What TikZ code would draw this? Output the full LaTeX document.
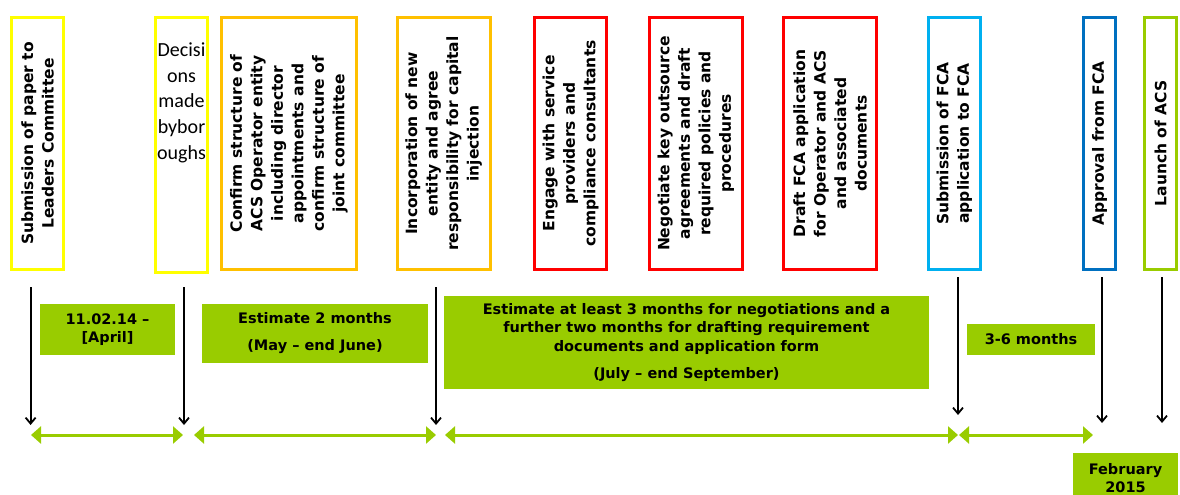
\documentclass[tikz,border=0pt]{standalone}
\usepackage{fontspec}
\usepackage{tikz}
\usetikzlibrary{arrows.meta, positioning}
\newfontfamily\cardfont{DejaVu Sans}
\newfontfamily\handfont{Carlito}
\definecolor{lemon}{HTML}{FFFF00}
\definecolor{amber}{HTML}{FFC000}
\definecolor{alarm}{HTML}{FF0000}
\definecolor{sky}{HTML}{00B0F0}
\definecolor{sea}{HTML}{0070C0}
\definecolor{leaf}{HTML}{99CC00}
\tikzset{
        card/.style={draw, line width=3pt, rotate=90, minimum width=252pt, inner sep=0pt, align=center,
                     font=\cardfont\bfseries\fontsize{15.5}{20.5}\selectfont}, % rotated task boxes
        note/.style={fill=leaf, inner sep=0pt, align=center,
                     font=\cardfont\bfseries\fontsize{14.5}{18.5}\selectfont}, % green estimates
        drop/.style={-{Straight Barb[length=6pt,width=10pt]}, line width=1.8pt}, % black milestone arrows
        period/.style={{Triangle[length=10pt,width=17pt]}-{Triangle[length=10pt,width=17pt]}, draw=leaf, line width=3pt},
    }
\begin{document}
\begin{tikzpicture}[x=1pt, y=-1pt]
    \useasboundingbox (0,0) rectangle (1180,495);
    % task boxes
    \node[card, draw=lemon, minimum height=52pt] (1) at (37.5,143.5) {Submission of paper to\\Leaders Committee};
    \node[draw=lemon, line width=3pt, minimum width=52pt, minimum height=254pt] (2) at (181.5,145) {};
    \node[below=26pt of 2.north, align=center, inner sep=0pt, font=\handfont\fontsize{20}{25.75}\selectfont] (2t) {Decisi\\ons\\made\\bybor\\oughs};
    \node[card, draw=amber, minimum height=135pt] (3) at (289,143.5) {Confirm structure of\\ACS Operator entity\\including director\\appointments and\\confirm structure of\\joint committee};
    \node[card, draw=amber, minimum height=93.5pt] (4) at (443.75,143.5) {Incorporation of new\\entity and agree\\responsibility for capital\\injection};
    \node[card, draw=alarm, minimum height=72pt] (5) at (570.5,143.5) {Engage with service\\providers and\\compliance consultants};
    \node[card, draw=alarm, minimum height=92.5pt] (6) at (695.75,143.5) {Negotiate key outsource\\agreements and draft\\required policies and\\procedures};
    \node[card, draw=alarm, minimum height=93pt] (7) at (830,143.5) {Draft FCA application\\for Operator and ACS\\and associated\\documents};
    \node[card, draw=sky, minimum height=51.5pt] (8) at (954.25,143.5) {Submission of FCA\\application to FCA};
    \node[card, draw=sea, minimum height=32pt] (9) at (1099.5,143.5) {Approval from FCA};
    \node[card, draw=leaf, minimum height=32pt] (10) at (1160.5,143.5) {Launch of ACS};

    % estimates
    \node[note, minimum width=135pt, minimum height=51pt] (a) at (107.5,329.5) {11.02.14 –\\{[}April{]}};
    \node[note, minimum width=226pt, minimum height=59pt] (b) at (315,333.5) {Estimate 2 months\\[8.5pt](May – end June)};
    \node[note, minimum width=485pt, minimum height=93pt] (c) at (686.5,342.5) {Estimate at least 3 months for negotiations and a\\further two months for drafting requirement\\documents and application form\\[8.5pt](July – end September)};
    \node[note, minimum width=128pt, minimum height=31pt] (d) at (1031,339.5) {3-6 months};
    \node[note, minimum width=105pt, minimum height=50pt] (e) at (1125.5,478) {February\\2015};

    % milestone arrows
    \coordinate (s1) at (30.6,287);  \coordinate (e1) at (30.6,425);
    \coordinate (s2) at (184,287);   \coordinate (e2) at (184,425);
    \coordinate (s3) at (436,287);   \coordinate (e3) at (436,425);
    \coordinate (s4) at (958,277);   \coordinate (e4) at (958,415);
    \coordinate (s5) at (1102,277);  \coordinate (e5) at (1102,423);
    \coordinate (s6) at (1162,277);  \coordinate (e6) at (1162,423);
    \foreach \i in {1,...,6}
      \draw[drop] (s\i) -- (e\i);

    % time line
    \coordinate (p1) at (31,435);   \coordinate (q1) at (183,435);
    \coordinate (p2) at (194,435);  \coordinate (q2) at (436,435);
    \coordinate (p3) at (445,435);  \coordinate (q3) at (958,435);
    \coordinate (p4) at (959,435);  \coordinate (q4) at (1093,435);
    \foreach \i in {1,...,4}
      \draw[period] (p\i) -- (q\i);
\end{tikzpicture}
\end{document}
